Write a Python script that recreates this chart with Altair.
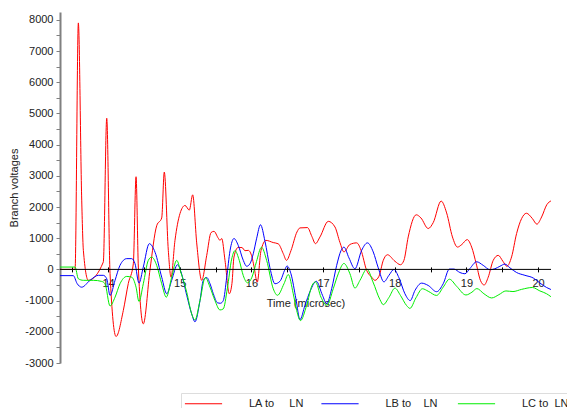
import altair as alt
import pandas as pd

series = ["LA to\u00a0\u00a0\u00a0\u00a0\u00a0LN", "LB to\u00a0\u00a0\u00a0\u00a0LN", "LC to\u00a0\u00a0LN"]
colors = ["#ff0000", "#0000ff", "#00ee00"]

t_red = [13.331, 13.540, 13.586, 13.633, 13.656, 13.725, 13.934, 13.982, 14.028, 14.112,
         14.213, 14.283, 14.353, 14.391, 14.423, 14.492, 14.586, 14.679, 14.749, 14.785,
         14.841, 14.879, 14.934, 15.004, 15.074, 15.134, 15.181, 15.237, 15.307, 15.377,
         15.437, 15.478, 15.538, 15.562, 15.586, 15.632, 15.692, 15.729, 15.757, 15.813,
         15.869, 15.911, 15.957, 16.008, 16.036, 16.082, 16.134, 16.204, 16.305, 16.375,
         16.445, 16.490, 16.552, 16.636, 16.678, 16.782, 16.845, 16.894, 16.957, 17.073,
         17.166, 17.236, 17.291, 17.375, 17.469, 17.529, 17.608, 17.678, 17.724, 17.780,
         17.840, 17.898, 18.003, 18.080, 18.128, 18.188, 18.300, 18.365, 18.467, 18.537,
         18.647, 18.724, 18.805, 18.875, 18.937, 19.011, 19.073, 19.137, 19.195, 19.248,
         19.304, 19.374, 19.444, 19.509, 19.565, 19.630, 19.700, 19.770, 19.837, 19.920,
         19.983, 20.049, 20.123, 20.179]
v_red = [0, 0, 7900, 2220, 610, -350, 235, 4845, -130, -2150,
         -1320, -450, 180, 2970, 75, -1745, 0, 1400, 1650, 3120,
         610, -250, 930, 1790, 2050, 1900, 2390, 850, -350, 450,
         1180, 1220, 1000, 930, 990, 290, -780, -450, 395, 700,
         700, 600, 610, 400, 100, -410, 600, 930, 860, 820,
         505, 290, 600, 1200, 1330, 1340, 1050, 825, 1040, 1540,
         1360, 860, 560, 800, 850, 620, -30, -250, -350, -220,
         290, 470, 260, 150, 290, 1040, 1750, 1650, 1310, 1500,
         2190, 1810, 1040, 715, 800, 955, 715, 180, -350, -500,
         -250, 290, 450, 260, 100, 400, 1150, 1630, 1800, 1630,
         1450, 1680, 2080, 2195]

t_blue = [13.331, 13.516, 13.568, 13.633, 13.749, 13.865, 13.934, 13.982, 14.028, 14.098,
          14.167, 14.261, 14.331, 14.377, 14.432, 14.492, 14.576, 14.656, 14.749, 14.819,
          14.888, 14.969, 15.018, 15.098, 15.167, 15.213, 15.283, 15.329, 15.377, 15.423,
          15.469, 15.527, 15.569, 15.608, 15.656, 15.702, 15.757, 15.817, 15.887, 15.934,
          15.980, 16.026, 16.074, 16.127, 16.190, 16.259, 16.329, 16.399, 16.469, 16.497,
          16.552, 16.622, 16.678, 16.748, 16.824, 16.905, 16.992, 17.050, 17.120, 17.190,
          17.250, 17.291, 17.361, 17.445, 17.538, 17.619, 17.700, 17.770, 17.849, 17.919,
          17.989, 18.059, 18.142, 18.216, 18.282, 18.375, 18.467, 18.584, 18.676, 18.763,
          18.826, 18.909, 18.979, 19.049, 19.142, 19.234, 19.328, 19.397, 19.467, 19.537,
          19.607, 19.700, 19.816, 19.932, 20.025, 20.118, 20.179]
v_blue = [-200, -200, -450, -570, -350, -190, -190, -300, -835, -350,
          130, 345, 345, 180, -440, 75, 825, 550, -250, -780,
          -350, 150, -80, -830, -1425, -1680, -1000, -350, -260, -460,
          -780, -1070, -1085, -1000, -250, 600, 990, 770, 290, 100,
          180, 500, 1000, 1430, 900, 50, -460, -380, 0, 110,
          -140, -950, -1610, -1150, -675, -380, -830, -1100, -620, 130,
          600, 715, 370, 20, 610, 850, 560, 50, -400, -190,
          0, -270, -780, -1000, -675, -440, -515, -715, -460, 10,
          10, -100, -140, 30, 245, 130, -10, 20, 100, 170,
          50, -100, -190, -275, -435, -580, -645]

t_green = [13.331, 13.540, 13.586, 13.656, 13.795, 13.912, 13.958, 14.028, 14.098, 14.167,
           14.261, 14.331, 14.391, 14.432, 14.492, 14.562, 14.609, 14.679, 14.749, 14.813,
           14.888, 14.958, 15.018, 15.098, 15.167, 15.213, 15.283, 15.357, 15.423, 15.492,
           15.562, 15.608, 15.664, 15.725, 15.771, 15.831, 15.887, 15.946, 16.008, 16.071,
           16.141, 16.213, 16.305, 16.364, 16.455, 16.515, 16.584, 16.632, 16.685, 16.771,
           16.845, 16.894, 16.971, 17.054, 17.142, 17.212, 17.291, 17.375, 17.445, 17.515,
           17.612, 17.696, 17.794, 17.840, 17.919, 18.003, 18.080, 18.166, 18.212, 18.296,
           18.386, 18.467, 18.584, 18.676, 18.763, 18.863, 18.993, 19.077, 19.146, 19.244,
           19.352, 19.453, 19.551, 19.649, 19.770, 19.920, 20.025, 20.118, 20.179]
v_green = [75, 75, -300, -350, -350, -385, -460, -1170, -890, -460,
           -225, -250, -570, -1030, -460, 290, 395, 130, -460, -890,
           -250, 290, -110, -730, -1425, -1620, -1000, -260, -570, -1000,
           -1300, -1265, -620, 330, 600, 290, -200, -430, -250, 250,
           710, 290, -620, -830, -460, -165, -780, -1320, -1640, -1150,
           -520, -400, -890, -1150, -620, -140, 190, -140, -600, -350,
           10, -400, -970, -1130, -900, -600, -835, -1160, -1250, -910,
           -620, -700, -835, -570, -315, -540, -820, -730, -615, -780,
           -915, -810, -690, -710, -640, -580, -690, -780, -875]

x_ticks = [13.5 + 0.5 * i for i in range(14)]
y_ticks = list(range(-3000, 8001, 500))
zero_line = [0]

rows = []
for name, ts, vs in zip(series, [t_red, t_blue, t_green], [v_red, v_blue, v_green]):
    assert len(ts) == len(vs), (name, len(ts), len(vs))
    for t, v in zip(ts, vs):
        rows.append({"series": name, "t": t, "v": v})
df = pd.DataFrame(rows)

FONT = "Liberation Sans"
TXT = "#222222"

xscale = alt.Scale(domain=[13.33, 20.18], nice=False, zero=False)
yscale = alt.Scale(domain=[-3000, 8250], nice=False, zero=False)

xaxis = alt.Axis(
    title="Time (microsec)", values=x_ticks, format=".1f",
    labelExpr="datum.value % 1 === 0 ? toString(datum.value) : ''",
    domain=False, grid=False, tickSize=5, tickColor="black", tickWidth=1,
    offset=-96.1, labelFont=FONT, labelFontSize=11, labelColor=TXT,
    labelPadding=6, labelFlush=False, labelOverlap=False,
    titleFont=FONT, titleFontSize=11, titleFontWeight="normal",
    titleColor=TXT, titlePadding=9)
yaxis = alt.Axis(
    title="Branch voltages", values=y_ticks, format="d",
    labelExpr="datum.value % 1000 === 0 ? toString(datum.value) : ''",
    domain=True, domainColor="#808080", domainWidth=2,
    tickColor="#808080", tickWidth=1, tickSize=4, grid=False,
    labelFont=FONT, labelFontSize=11, labelColor=TXT, labelPadding=3,
    labelOverlap=False, titleFont=FONT, titleFontSize=11,
    titleFontWeight="normal", titleColor=TXT, titlePadding=5)

lines = alt.Chart(df).mark_line(strokeWidth=1, interpolate="monotone").encode(
    x=alt.X("t:Q", scale=xscale, axis=xaxis),
    y=alt.Y("v:Q", scale=yscale, axis=yaxis),
    color=alt.Color("series:N", scale=alt.Scale(domain=series, range=colors),
                    legend=alt.Legend(
                        orient="none", legendX=121, legendY=381,
                        direction="horizontal", title=None,
                        symbolType="M-3.1,0H3.1", symbolSize=144,
                        symbolStrokeWidth=1, symbolOffset=12,
                        labelOffset=39, columnPadding=13.5, gridAlign="all",
                        padding=4, strokeColor="#dddddd", labelFont=FONT,
                        labelFontSize=11, labelColor=TXT)),
)

zero = alt.Chart(pd.DataFrame({"v": zero_line})).mark_rule(
    color="black", strokeWidth=1).encode(y=alt.Y("v:Q", scale=yscale, axis=yaxis))

chart = alt.layer(lines, zero).properties(
    width=491, height=351,
    autosize=alt.AutoSizeParams(type="none"),
    padding={"left": 52, "top": 4, "right": 16, "bottom": 45},
    background="white",
).configure_view(stroke=None).configure_axis(labelOverlap=False)

chart.save("out.html", embed_options={"renderer": "svg", "actions": False})
